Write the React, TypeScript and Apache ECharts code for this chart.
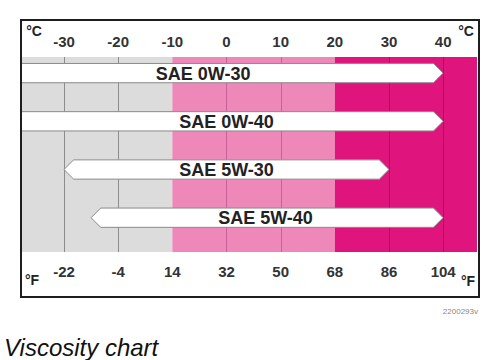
import React, { useEffect, useRef } from "react";
import * as echarts from "echarts";

// ---- data ----
const grades = ["SAE 0W-30", "SAE 0W-40", "SAE 5W-30", "SAE 5W-40"];
const rangeStartC = [-40, -40, -30, -25];
const rangeEndC = [40, 40, 30, 40];
const labelAtC = [-4.3, 0, 0, 7.2];

const celsiusTicks = [-30, -20, -10, 0, 10, 20, 30, 40];
const fahrenheitTicks = [-22, -4, 14, 32, 50, 68, 86, 104];

const C_MIN = -37.75;
const C_MAX = 46.25;
const F_MIN = C_MIN * 1.8 + 32;
const F_MAX = C_MAX * 1.8 + 32;

const bandEdgesC = [-10, 20];
const bandColors = ["#dcdcdc", "#ee88b8", "#e0147d"];
const bandLineColors = ["#8c8c8c", "#c8609a", "#b00c63"];
const gridLinesC = [-30, -20, 0, 10, 30, 40];

const FONT = "Liberation Sans, Arial, sans-serif";

function bandIndex(v: number) {
  let i = 0;
  while (i < bandEdgesC.length && v >= bandEdgesC[i]) i++;
  return i;
}

export default function App() {
  const ref = useRef<HTMLDivElement>(null);

  useEffect(() => {
    if (!ref.current) return;
    const chart = echarts.init(ref.current, undefined, { renderer: "svg" });

    const bandData = [
      [C_MIN, bandEdgesC[0]],
      [bandEdgesC[0], bandEdgesC[1]],
      [bandEdgesC[1], C_MAX],
    ];
    const arrowData = grades.map((g, i) => [rangeStartC[i], rangeEndC[i], i, labelAtC[i]]);

    const option: any = {
      animation: false,
      backgroundColor: "#ffffff",
      grid: [
        { left: 22, right: 13, top: 57, bottom: 108 },
        { left: 22, right: 13, top: 49, height: 192.8 },
      ],
      xAxis: [
        {
          gridIndex: 0,
          type: "value",
          position: "top",
          min: C_MIN,
          max: C_MAX,
          axisLine: { show: false },
          axisTick: { show: false },
          splitLine: { show: false },
          axisLabel: {
            customValues: celsiusTicks,
            margin: 8,
            color: "#333",
            fontSize: 15,
            fontWeight: "bold",
            fontFamily: FONT,
            formatter: (v: number) => String(v),
          },
        },
        {
          gridIndex: 0,
          type: "value",
          position: "bottom",
          min: F_MIN,
          max: F_MAX,
          axisLine: { show: false },
          axisTick: { show: false },
          splitLine: { show: false },
          axisLabel: {
            customValues: fahrenheitTicks,
            margin: 12,
            color: "#333",
            fontSize: 15,
            fontWeight: "bold",
            fontFamily: FONT,
            formatter: (v: number) => String(v),
          },
        },
        { gridIndex: 1, type: "value", min: C_MIN, max: C_MAX, show: false },
      ],
      yAxis: [
        { gridIndex: 0, type: "value", min: 0, max: 1, show: false },
        { gridIndex: 1, type: "category", data: grades, inverse: true, show: false },
      ],
      series: [
        {
          type: "custom",
          xAxisIndex: 0,
          yAxisIndex: 0,
          clip: true,
          silent: true,
          encode: { x: [0, 1] },
          data: bandData,
          renderItem: (params: any, api: any) => {
            const a = api.coord([api.value(0), 1]);
            const b = api.coord([api.value(1), 0]);
            return {
              type: "rect",
              shape: { x: a[0], y: a[1], width: b[0] - a[0], height: b[1] - a[1] },
              style: { fill: bandColors[params.dataIndex] },
            };
          },
        },
        {
          type: "custom",
          xAxisIndex: 0,
          yAxisIndex: 0,
          clip: true,
          silent: true,
          encode: { x: 0 },
          data: gridLinesC.map((v) => [v]),
          renderItem: (params: any, api: any) => {
            const v = api.value(0);
            const a = api.coord([v, 1]);
            const b = api.coord([v, 0]);
            const x = Math.round(a[0]) + 0.5;
            return {
              type: "line",
              shape: { x1: x, y1: a[1], x2: x, y2: b[1] },
              style: { stroke: bandLineColors[bandIndex(v)], lineWidth: 1 },
            };
          },
        },
        {
          type: "custom",
          xAxisIndex: 2,
          yAxisIndex: 1,
          clip: true,
          silent: true,
          encode: { x: [0, 1], y: 2 },
          data: arrowData,
          renderItem: (params: any, api: any) => {
            const row = api.value(2);
            const p0 = api.coord([api.value(0), row]);
            const p1 = api.coord([api.value(1), row]);
            const lab = api.coord([api.value(3), row]);
            const h = api.size([0, 1])[1] * 0.4;
            const cy = p0[1];
            const tip = h / 2;
            const top = cy - h / 2;
            const bot = cy + h / 2;
            return {
              type: "group",
              children: [
                {
                  type: "polygon",
                  shape: {
                    points: [
                      [p0[0], cy],
                      [p0[0] + tip, top],
                      [p1[0] - tip, top],
                      [p1[0], cy],
                      [p1[0] - tip, bot],
                      [p0[0] + tip, bot],
                    ],
                  },
                  style: { fill: "#ffffff", stroke: "#8a8a8a", lineWidth: 1 },
                },
                {
                  type: "text",
                  style: {
                    text: grades[params.dataIndex],
                    x: lab[0],
                    y: cy + 0.5,
                    align: "center",
                    verticalAlign: "middle",
                    fontSize: 18,
                    fontWeight: "bold",
                    fontFamily: FONT,
                    fill: "#222222",
                  },
                },
              ],
            };
          },
        },
      ],
      graphic: [
        {
          type: "rect",
          z: 100,
          silent: true,
          shape: { x: 21, y: 20, width: 458, height: 277 },
          style: { fill: "none", stroke: "#1e1e1e", lineWidth: 2 },
        },
        {
          type: "text",
          z: 100,
          style: { text: "°C", x: 34, y: 31, align: "center", verticalAlign: "middle", fontSize: 14, fontWeight: "bold", fontFamily: FONT, fill: "#222" },
        },
        {
          type: "text",
          z: 100,
          style: { text: "°C", x: 466, y: 31, align: "center", verticalAlign: "middle", fontSize: 14, fontWeight: "bold", fontFamily: FONT, fill: "#222" },
        },
        {
          type: "text",
          z: 100,
          style: { text: "°F", x: 32, y: 280, align: "center", verticalAlign: "middle", fontSize: 14, fontWeight: "bold", fontFamily: FONT, fill: "#222" },
        },
        {
          type: "text",
          z: 100,
          style: { text: "°F", x: 468, y: 281, align: "center", verticalAlign: "middle", fontSize: 14, fontWeight: "bold", fontFamily: FONT, fill: "#222" },
        },
        {
          type: "text",
          z: 100,
          style: { text: "2200293v", x: 478, y: 311, align: "right", verticalAlign: "middle", fontSize: 8, fontFamily: FONT, fill: "#888" },
        },
        {
          type: "text",
          z: 100,
          style: { text: "Viscosity chart", x: 4, y: 347, align: "left", verticalAlign: "middle", fontSize: 24, fontStyle: "italic", fontFamily: FONT, fill: "#111" },
        },
      ],
    };

    chart.setOption(option);
    return () => chart.dispose();
  }, []);

  return (
    <div
      ref={ref}
      style={{ position: "fixed", left: 0, top: 0, width: 490, height: 360 }}
    />
  );
}
